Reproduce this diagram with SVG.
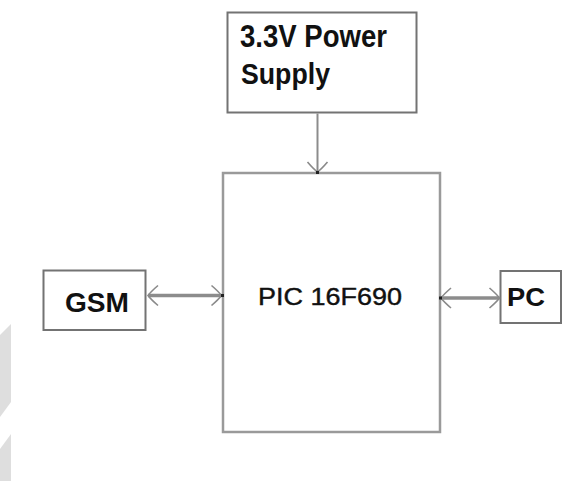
<svg xmlns="http://www.w3.org/2000/svg" width="584" height="481" viewBox="0 0 584 481">
  <style>
    .box { fill: #ffffff; stroke: #737373; stroke-width: 2; }
    .big { fill: #ffffff; stroke: #9a9a9a; stroke-width: 2.5; }
    .lbl { font-family: "Liberation Sans", Arial, sans-serif; fill: #111111; }
    .b { font-weight: bold; }
    .thin { stroke: #111111; stroke-width: 0.4; }
    .wire { stroke: #8c8c8c; fill: none; }
    .dot { fill: #222222; }
  </style>
  <defs>
    <marker id="chev" markerUnits="userSpaceOnUse" viewBox="-13 -12 15 24" markerWidth="15" markerHeight="24" refX="0" refY="0" orient="auto-start-reverse" overflow="visible">
      <path d="M -10,-10 Q -3,-4 0,0 Q -3,4 -10,10" fill="none" stroke="#8a8a8a" stroke-width="1.6"/>
    </marker>
  </defs>
  <rect width="584" height="481" fill="#ffffff"/>
  <g id="watermark">
    <polygon points="0,335 11,324 11,402 0,417" fill="#dedede"/>
    <polygon points="0,449 11,434 11,481 0,481" fill="#dedede"/>
  </g>
  <g id="power">
    <rect class="box" x="227.5" y="12.5" width="189" height="100"/>
    <text class="lbl b" x="240" y="47" font-size="31" textLength="147" lengthAdjust="spacingAndGlyphs">3.3V Power</text>
    <text class="lbl b" x="241" y="83.5" font-size="30" textLength="89" lengthAdjust="spacingAndGlyphs">Supply</text>
  </g>
  <g id="pic">
    <rect class="big" x="223" y="173" width="217" height="259"/>
    <text class="lbl thin" x="258" y="305" font-size="23" textLength="144" lengthAdjust="spacingAndGlyphs">PIC 16F690</text>
  </g>
  <g id="gsm">
    <rect class="box" x="43.5" y="270.5" width="102" height="59.5"/>
    <text class="lbl b" x="65" y="311.5" font-size="28" textLength="64" lengthAdjust="spacingAndGlyphs">GSM</text>
  </g>
  <g id="pc">
    <rect class="box" x="500.5" y="271" width="60.5" height="52"/>
    <text class="lbl b" x="507" y="306" font-size="26" textLength="38" lengthAdjust="spacingAndGlyphs">PC</text>
  </g>
  <g id="connectors">
    <line class="wire" x1="317.5" y1="113.5" x2="317.5" y2="172" stroke-width="2" marker-end="url(#chev)"/>
    <line class="wire" x1="148" y1="295.5" x2="221.5" y2="295.5" stroke-width="3.5" marker-start="url(#chev)" marker-end="url(#chev)"/>
    <line class="wire" x1="441" y1="298" x2="499.5" y2="298" stroke-width="3.5" marker-start="url(#chev)" marker-end="url(#chev)"/>
    <rect class="dot" x="316" y="171" width="3" height="3"/>
    <rect class="dot" x="221" y="294" width="3" height="3"/>
    <rect class="dot" x="439" y="296.5" width="3" height="3"/>
  </g>
</svg>
